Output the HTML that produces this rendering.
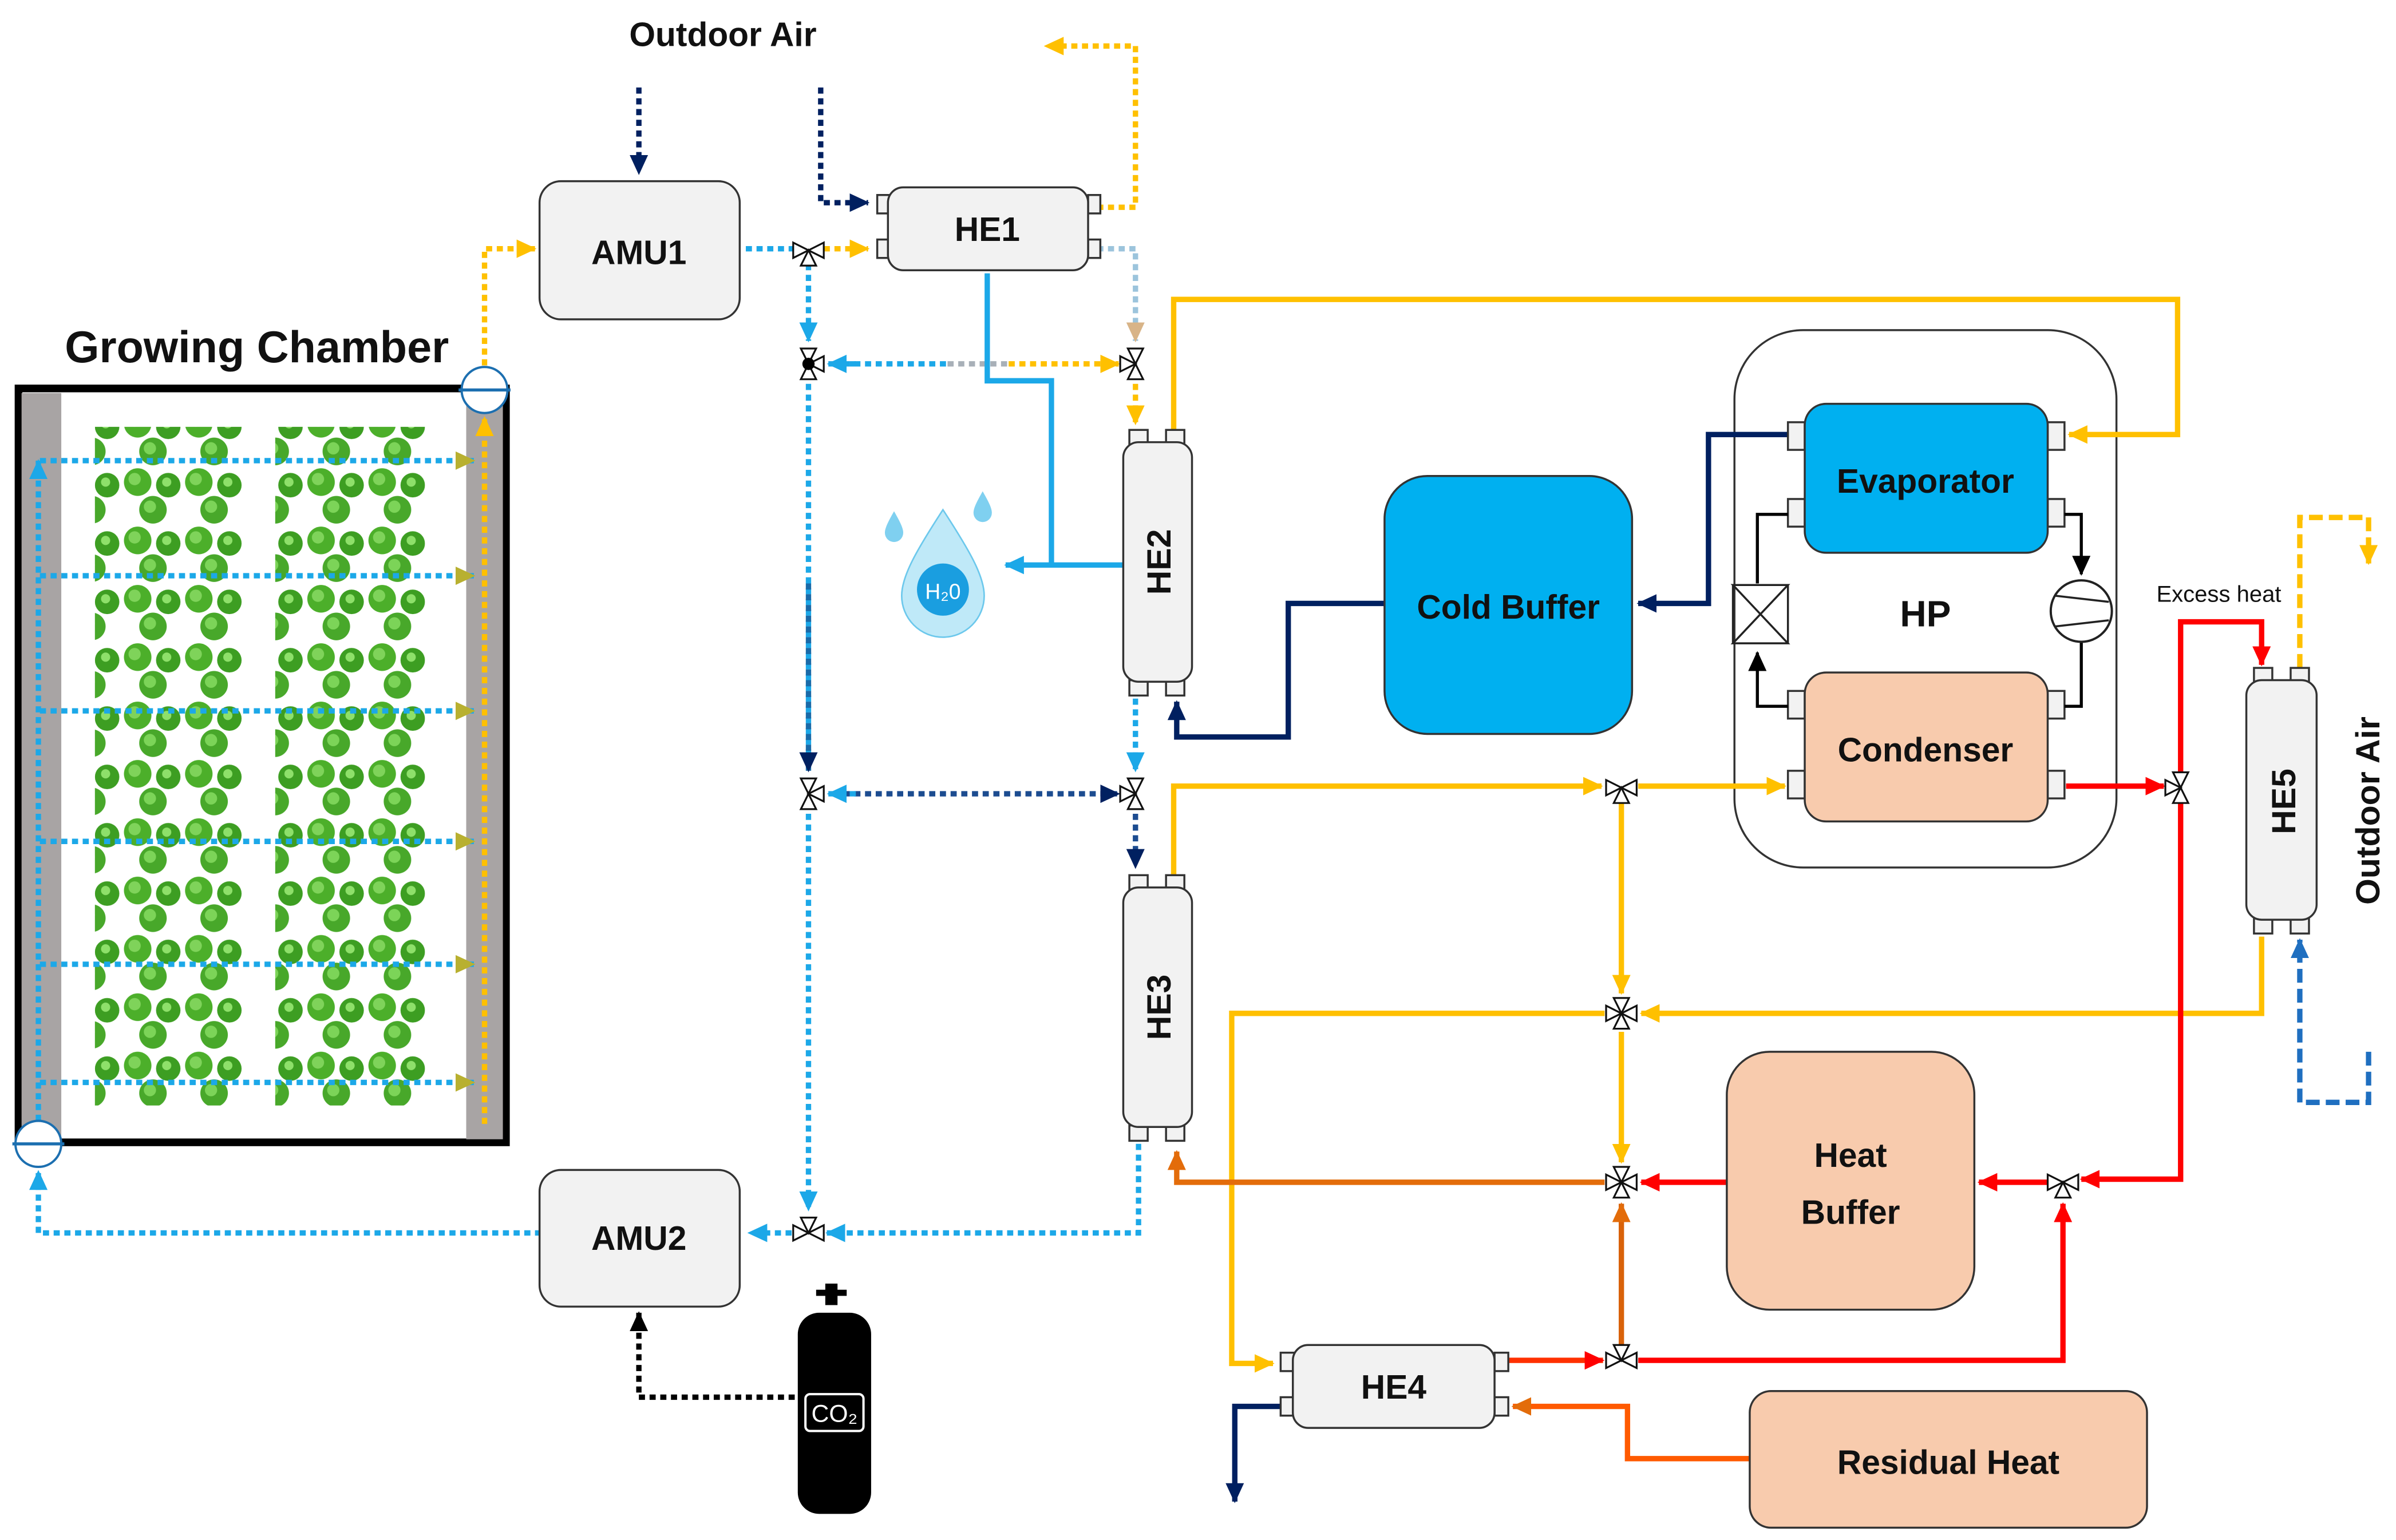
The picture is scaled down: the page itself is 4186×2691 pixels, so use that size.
<!DOCTYPE html>
<html><head><meta charset="utf-8"><style>html,body{margin:0;padding:0;background:#fff}svg{display:block}text{font-family:"Liberation Sans",sans-serif;font-weight:bold;fill:#111}</style></head>
<body>
<svg width="4186" height="2691" viewBox="0 0 1560 1003" xmlns="http://www.w3.org/2000/svg">
<defs>
<marker id="aY" markerUnits="userSpaceOnUse" markerWidth="14" markerHeight="14" refX="12" refY="7" orient="auto"><path d="M0,1 L13,7 L0,13 Z" fill="#ffc000"/></marker>
<marker id="aR" markerUnits="userSpaceOnUse" markerWidth="14" markerHeight="14" refX="12" refY="7" orient="auto"><path d="M0,1 L13,7 L0,13 Z" fill="#ff0000"/></marker>
<marker id="aO" markerUnits="userSpaceOnUse" markerWidth="14" markerHeight="14" refX="12" refY="7" orient="auto"><path d="M0,1 L13,7 L0,13 Z" fill="#e36c0a"/></marker>
<marker id="aN" markerUnits="userSpaceOnUse" markerWidth="14" markerHeight="14" refX="12" refY="7" orient="auto"><path d="M0,1 L13,7 L0,13 Z" fill="#002060"/></marker>
<marker id="aB" markerUnits="userSpaceOnUse" markerWidth="14" markerHeight="14" refX="12" refY="7" orient="auto"><path d="M0,1 L13,7 L0,13 Z" fill="#1ca8e8"/></marker>
<marker id="aT" markerUnits="userSpaceOnUse" markerWidth="14" markerHeight="14" refX="12" refY="7" orient="auto"><path d="M0,1 L13,7 L0,13 Z" fill="#d8b488"/></marker>
<marker id="aG" markerUnits="userSpaceOnUse" markerWidth="14" markerHeight="14" refX="12" refY="7" orient="auto"><path d="M0,1 L13,7 L0,13 Z" fill="#b8b030"/></marker>
<marker id="aK" markerUnits="userSpaceOnUse" markerWidth="14" markerHeight="14" refX="12" refY="7" orient="auto"><path d="M0,1 L13,7 L0,13 Z" fill="#000"/></marker>
<marker id="aD" markerUnits="userSpaceOnUse" markerWidth="14" markerHeight="14" refX="12" refY="7" orient="auto"><path d="M0,1 L13,7 L0,13 Z" fill="#1f6fc0"/></marker>
<path id="tL" d="M-10,-5 L0,0 L-10,5 Z" fill="#fff" stroke="#111" stroke-width="1.2"/>
<path id="tR" d="M10,-5 L0,0 L10,5 Z" fill="#fff" stroke="#111" stroke-width="1.2"/>
<path id="tU" d="M-5,-10 L0,0 L5,-10 Z" fill="#fff" stroke="#111" stroke-width="1.2"/>
<path id="tD" d="M-5,10 L0,0 L5,10 Z" fill="#fff" stroke="#111" stroke-width="1.2"/>
<pattern id="pl" width="40" height="38" patternUnits="userSpaceOnUse">
<rect width="40" height="38" fill="#fff"/>
<circle cx="10" cy="10" r="9" fill="#4caf2a"/><circle cx="8" cy="8" r="4" fill="#7fd35a"/>
<circle cx="30" cy="12" r="8" fill="#3d9e22"/><circle cx="29" cy="10" r="3" fill="#8ee06a"/>
<circle cx="20" cy="28" r="9" fill="#48a82a"/><circle cx="18" cy="26" r="4" fill="#7cd458"/>
</pattern>
</defs>
<g transform="scale(0.995,1)">
<text x="473" y="30" font-size="22" text-anchor="middle">Outdoor Air</text>
<text x="168" y="236" font-size="29" text-anchor="middle">Growing Chamber</text>

<rect x="1135" y="215" width="250" height="350" rx="45" fill="#fff" stroke="#333" stroke-width="1.3"/>

<rect x="12" y="253" width="319" height="491" fill="#fff" stroke="#000" stroke-width="5"/>
<rect x="14" y="256" width="26" height="486" fill="#a8a4a4"/>
<rect x="305" y="256" width="24" height="486" fill="#a8a4a4"/>
<rect x="62" y="278" width="98" height="442" fill="url(#pl)"/>
<rect x="180" y="278" width="98" height="442" fill="url(#pl)"/>
<g stroke="#1ca8e8" stroke-width="3.5" stroke-dasharray="4,3" fill="none" marker-end="url(#aG)">
<path d="M26,300 H310"/><path d="M26,375 H310"/><path d="M26,463 H310"/><path d="M26,548 H310"/><path d="M26,628 H310"/><path d="M26,705 H310"/>
</g>
<path d="M25,737 V300" stroke="#1ca8e8" stroke-width="3.5" stroke-dasharray="4,3" fill="none" marker-end="url(#aB)"/>
<path d="M317,732 V272" stroke="#ffc000" stroke-width="3.5" stroke-dasharray="4,3" fill="none" marker-end="url(#aY)"/>
<ellipse cx="317" cy="254" rx="15" ry="15" fill="#fff" stroke="#1c6fb0" stroke-width="1.5"/><path d="M300,254 H334" stroke="#1c6fb0" stroke-width="2"/>
<ellipse cx="25" cy="745" rx="15" ry="15" fill="#fff" stroke="#1c6fb0" stroke-width="1.5"/><path d="M8,745 H42" stroke="#1c6fb0" stroke-width="2"/>

<g fill="none" stroke-width="3.5" stroke-dasharray="4,3">
<path d="M418,57 V113" stroke="#002060" marker-end="url(#aN)"/>
<path d="M537,57 V132 H568" stroke="#002060" marker-end="url(#aN)"/>
<path d="M718,135 H743 V30 H684" stroke="#ffc000" marker-end="url(#aY)"/>
<path d="M317,238 V162 H350" stroke="#ffc000" marker-end="url(#aY)"/>
<path d="M488,162 H519" stroke="#1ca8e8"/>
<path d="M539,162 H568" stroke="#ffc000" marker-end="url(#aY)"/>
<path d="M529,172 V222" stroke="#1ca8e8" marker-end="url(#aB)"/>
<path d="M718,162 H743 V222" stroke="#9cc4dc" marker-end="url(#aT)"/>
<path d="M545,237 H620" stroke="#1ca8e8"/><path d="M620,237 H660" stroke="#a8b0b8"/><path d="M660,237 H732" stroke="#ffc000" marker-end="url(#aY)"/>
<path d="M560,237 H542" stroke="#1ca8e8" marker-end="url(#aB)"/>
<path d="M743,250 V276" stroke="#ffc000" marker-end="url(#aY)"/>
<path d="M529,250 V500" stroke="#1ca8e8"/><path d="M529,380 V502" stroke="#1a6aa8" marker-end="url(#aN)"/>
<path d="M743,455 V502" stroke="#1ca8e8" marker-end="url(#aB)"/>
<path d="M545,517 H732" stroke="#1c4c90" marker-end="url(#aN)"/><path d="M560,517 H542" stroke="#1ca8e8" marker-end="url(#aB)"/>
<path d="M743,530 V565" stroke="#1c4c90" marker-end="url(#aN)"/>
<path d="M529,530 V788" stroke="#1ca8e8" marker-end="url(#aB)"/>
<path d="M745,745 V803 H541" stroke="#1ca8e8" marker-end="url(#aB)"/>
<path d="M518,803 H490" stroke="#1ca8e8" marker-end="url(#aB)"/>
<path d="M354,803 H25 V763" stroke="#1ca8e8" marker-end="url(#aB)"/>
<path d="M520,910 H418 V855" stroke="#000" marker-end="url(#aK)"/>
</g>
<g fill="none" stroke-width="3.5" stroke-dasharray="9,4">
<path d="M1505,435 V337 H1550 V367" stroke="#ffc000" marker-end="url(#aY)"/>
<path d="M1550,685 V718 H1505 V612" stroke="#1f6fc0" marker-end="url(#aD)"/>
</g>

<g fill="none" stroke-width="3.5">
<path d="M646,178 V248 H688 V368" stroke="#1ca8e8"/>
<path d="M735,368 H658" stroke="#1ca8e8" marker-end="url(#aB)"/>
<path d="M768,283 V195 H1425 V283 H1354" stroke="#ffc000" marker-end="url(#aY)"/>
<path d="M1175,283 H1118 V393 H1072" stroke="#002060" marker-end="url(#aN)"/>
<path d="M906,393 H843 V480 H770 V457" stroke="#002060" marker-end="url(#aN)"/>
<path d="M768,572 V512 H1048" stroke="#ffc000" marker-end="url(#aY)"/>
<path d="M1072,512 H1168" stroke="#ffc000" marker-end="url(#aY)"/>
<path d="M1061,523 V647" stroke="#ffc000" marker-end="url(#aY)"/>
<path d="M1480,610 V660 H1074" stroke="#ffc000" marker-end="url(#aY)"/>
<path d="M1050,660 H806 V888 H833" stroke="#ffc000" marker-end="url(#aY)"/>
<path d="M1061,672 V757" stroke="#ffc000" marker-end="url(#aY)"/>
<path d="M1352,512 H1416" stroke="#ff0000" marker-end="url(#aR)"/>
<path d="M1427,503 V405 H1480 V433" stroke="#ff0000" marker-end="url(#aR)"/>
<path d="M1427,523 V768 H1362" stroke="#ff0000" marker-end="url(#aR)"/>
<path d="M1340,770 H1295" stroke="#ff0000" marker-end="url(#aR)"/>
<path d="M1130,770 H1074" stroke="#ff0000" marker-end="url(#aR)"/>
<path d="M1072,886 H1350 V784" stroke="#ff0000" marker-end="url(#aR)"/>
<path d="M985,886 H1049" stroke="#ff3000" marker-end="url(#aR)"/>
<path d="M1050,770 H770 V750" stroke="#e36c0a" marker-end="url(#aO)"/>
<path d="M1061,876 V784" stroke="#d9620a" marker-end="url(#aO)"/>
<path d="M1145,950 H1065 V916 H990" stroke="#ff5a00" marker-end="url(#aO)"/>
<path d="M840,916 H808 V978" stroke="#002060" marker-end="url(#aN)"/>
</g>

<g transform="translate(529,163)"><use href="#tL"/><use href="#tR"/><use href="#tD"/></g>
<g transform="translate(529,237)"><use href="#tU"/><use href="#tD"/><use href="#tR"/><circle r="4" fill="#000"/></g>
<g transform="translate(743,237)"><use href="#tU"/><use href="#tD"/><use href="#tL"/></g>
<g transform="translate(529,517)"><use href="#tU"/><use href="#tD"/><use href="#tR"/></g>
<g transform="translate(743,517)"><use href="#tU"/><use href="#tD"/><use href="#tL"/></g>
<g transform="translate(529,803)"><use href="#tL"/><use href="#tR"/><use href="#tU"/></g>
<g transform="translate(1061,513)"><use href="#tL"/><use href="#tR"/><use href="#tD"/></g>
<g transform="translate(1427,513)"><use href="#tU"/><use href="#tD"/><use href="#tL"/></g>
<g transform="translate(1061,660)"><use href="#tL"/><use href="#tR"/><use href="#tU"/><use href="#tD"/></g>
<g transform="translate(1061,770)"><use href="#tL"/><use href="#tR"/><use href="#tU"/><use href="#tD"/></g>
<g transform="translate(1061,886)"><use href="#tL"/><use href="#tR"/><use href="#tU"/></g>
<g transform="translate(1350,770)"><use href="#tL"/><use href="#tR"/><use href="#tD"/></g>

<g stroke="#333" stroke-width="1.3" fill="#f2f2f2">
<rect x="353" y="118" width="131" height="90" rx="14"/>
<rect x="353" y="762" width="131" height="89" rx="14"/>
<rect x="574" y="127" width="8" height="12"/><rect x="574" y="156" width="8" height="12"/>
<rect x="712" y="127" width="8" height="12"/><rect x="712" y="156" width="8" height="12"/>
<rect x="581" y="122" width="131" height="54" rx="10"/>
<rect x="739" y="280" width="12" height="10"/><rect x="763" y="280" width="12" height="10"/>
<rect x="739" y="443" width="12" height="10"/><rect x="763" y="443" width="12" height="10"/>
<rect x="735" y="288" width="45" height="156" rx="10"/>
<rect x="739" y="570" width="12" height="10"/><rect x="763" y="570" width="12" height="10"/>
<rect x="739" y="733" width="12" height="10"/><rect x="763" y="733" width="12" height="10"/>
<rect x="735" y="578" width="45" height="156" rx="10"/>
<rect x="838" y="881" width="9" height="12"/><rect x="838" y="910" width="9" height="12"/>
<rect x="978" y="881" width="9" height="12"/><rect x="978" y="910" width="9" height="12"/>
<rect x="846" y="876" width="132" height="54" rx="10"/>
<rect x="1475" y="435" width="12" height="10"/><rect x="1499" y="435" width="12" height="10"/>
<rect x="1475" y="598" width="12" height="10"/><rect x="1499" y="598" width="12" height="10"/>
<rect x="1470" y="443" width="46" height="156" rx="10"/>
</g>
<rect x="906" y="310" width="162" height="168" rx="28" fill="#00b0f0" stroke="#333" stroke-width="1.3"/>
<g stroke="#333" stroke-width="1.3">
<rect x="1170" y="275" width="11" height="18" fill="#f2f2f2"/><rect x="1170" y="325" width="11" height="18" fill="#f2f2f2"/>
<rect x="1340" y="275" width="11" height="18" fill="#f2f2f2"/><rect x="1340" y="325" width="11" height="18" fill="#f2f2f2"/>
<rect x="1181" y="263" width="159" height="97" rx="14" fill="#00b0f0"/>
<rect x="1170" y="450" width="11" height="18" fill="#f2f2f2"/><rect x="1170" y="502" width="11" height="18" fill="#f2f2f2"/>
<rect x="1340" y="450" width="11" height="18" fill="#f2f2f2"/><rect x="1340" y="502" width="11" height="18" fill="#f2f2f2"/>
<rect x="1181" y="438" width="159" height="97" rx="14" fill="#f8cbad"/>
<rect x="1130" y="685" width="162" height="168" rx="28" fill="#f8cbad"/>
<rect x="1145" y="906" width="260" height="89" rx="14" fill="#f8cbad"/>
</g>
<g fill="none" stroke="#000" stroke-width="2">
<path d="M1170,335 H1150 V380"/>
<path d="M1170,460 H1150 V425" marker-end="url(#aK)"/>
<path d="M1351,335 H1362 V374" marker-end="url(#aK)"/>
<path d="M1351,460 H1362 V418"/>
</g>
<path d="M1134,381 L1170,419 L1134,419 L1170,381 Z M1134,381 V419 M1170,381 V419" fill="#fff" stroke="#222" stroke-width="1.3"/>
<circle cx="1362" cy="398" r="20" fill="#fff" stroke="#222" stroke-width="1.5"/>
<path d="M1345,388 L1380,392 M1345,408 L1380,404" stroke="#222" stroke-width="1.3"/>

<path d="M617,332 C600,358 590,375 590,388 A27,27 0 0 0 644,388 C644,375 634,358 617,332 Z" fill="#bfe9f8" stroke="#6cc8ec"/>
<circle cx="617" cy="384" r="17" fill="#1a9ee0"/>
<path d="M585,333 c-4,7 -6,11 -6,14 a6,6 0 0 0 12,0 c0,-3 -2,-7 -6,-14z" fill="#7fd0f0"/>
<path d="M643,320 c-4,7 -6,11 -6,14 a6,6 0 0 0 12,0 c0,-3 -2,-7 -6,-14z" fill="#7fd0f0"/>
<text x="617" y="390" font-size="14" text-anchor="middle" style="fill:#fff;font-weight:normal">H₂0</text>

<rect x="540" y="836" width="8" height="14" fill="#000"/><rect x="534" y="840" width="20" height="4" fill="#000"/>
<rect x="522" y="855" width="48" height="131" rx="14" fill="#000"/>
<rect x="527" y="908" width="38" height="24" rx="3" fill="none" stroke="#fff" stroke-width="1.5"/>
<text x="546" y="926" font-size="16" text-anchor="middle" style="fill:#fff;font-weight:normal">CO₂</text>

<g font-size="22" text-anchor="middle">
<text x="418" y="172">AMU1</text>
<text x="418" y="814">AMU2</text>
<text x="646" y="157">HE1</text>
<text x="912" y="911">HE4</text>
<text x="987" y="403">Cold Buffer</text>
<text x="1260" y="321">Evaporator</text>
<text x="1260" y="496">Condenser</text>
<text x="1260" y="408" font-size="24">HP</text>
<text x="1211" y="760">Heat</text>
<text x="1211" y="797">Buffer</text>
<text x="1275" y="960">Residual Heat</text>
<text transform="translate(766,366) rotate(-90)">HE2</text>
<text transform="translate(766,656) rotate(-90)">HE3</text>
<text transform="translate(1502,522) rotate(-90)">HE5</text>
<text transform="translate(1557,528) rotate(-90)" font-size="22">Outdoor Air</text>
</g>
<text x="1452" y="392" font-size="15" text-anchor="middle" style="font-weight:normal">Excess heat</text>
</g>
</svg>
</body></html>
